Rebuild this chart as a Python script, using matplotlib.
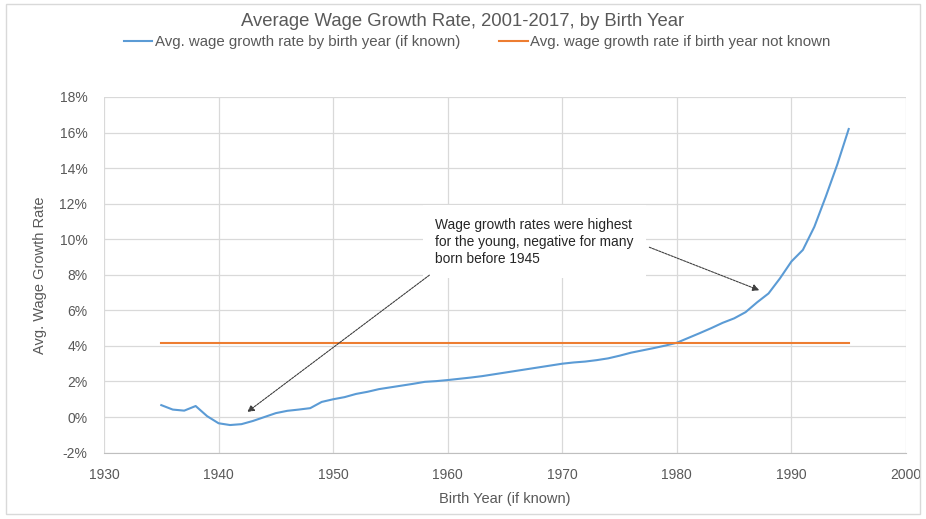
import matplotlib
matplotlib.use("Agg")
import matplotlib.pyplot as plt
from matplotlib.patches import Rectangle
from matplotlib.ticker import FuncFormatter, MultipleLocator

plt.rcParams['font.family'] = ['Liberation Sans', 'DejaVu Sans']

years = list(range(1935, 1996))
wage_growth = [0.67, 0.42, 0.36, 0.62, 0.05, -0.35, -0.45, -0.40, -0.22, 0.00,
               0.22, 0.35, 0.42, 0.50, 0.85, 1.00, 1.12, 1.30, 1.42, 1.57,
               1.67, 1.77, 1.87, 1.98, 2.02, 2.08, 2.15, 2.22, 2.30, 2.40,
               2.50, 2.60, 2.70, 2.80, 2.90, 3.00, 3.07, 3.12, 3.20, 3.30,
               3.45, 3.62, 3.75, 3.88, 4.02, 4.18, 4.45, 4.72, 5.00, 5.30,
               5.55, 5.90, 6.45, 6.95, 7.80, 8.75, 9.40, 10.70, 12.40, 14.20,
               16.20]
unknown_rate = 4.15

title = "Average Wage Growth Rate, 2001-2017, by Birth Year"
label_known = "Avg. wage growth rate by birth year (if known)"
label_unknown = "Avg. wage growth rate if birth year not known"
xlabel = "Birth Year (if known)"
ylabel = "Avg. Wage Growth Rate"
note = "Wage growth rates were highest\nfor the young, negative for many\nborn before 1945"

blue = '#5B9BD5'
orange = '#ED7D31'
grid = '#D9D9D9'
txt = '#595959'

fig = plt.figure(figsize=(9.26, 5.19), dpi=100)
fig.patch.set_facecolor('white')
fig.add_artist(Rectangle((0.006, 0.01), 0.988, 0.982, transform=fig.transFigure,
                         fill=False, edgecolor='#D9D9D9', lw=1))

ax = fig.add_axes([104/926, 1-452.6/519, (906-104)/926, (452.6-97)/519])
ax.plot(years, wage_growth, color=blue, lw=1.5, label=label_known, zorder=3)
ax.plot([years[0], years[-1]], [unknown_rate, unknown_rate], color=orange, lw=1.5,
        label=label_unknown, zorder=3)

ax.set_xlim(1930, 2000)
ax.set_ylim(-2, 18)
ax.xaxis.set_major_locator(MultipleLocator(10))
ax.yaxis.set_major_locator(MultipleLocator(2))
ax.yaxis.set_major_formatter(FuncFormatter(lambda v, p: f"{v:.0f}%"))
ax.grid(True, color=grid, lw=0.9, zorder=0)
ax.set_axisbelow(True)
for s in ['top', 'right', 'left']:
    ax.spines[s].set_visible(False)
ax.spines['bottom'].set_color('#BFBFBF')
ax.tick_params(length=0, colors=txt, labelsize=10)
ax.tick_params(axis='x', pad=11)
ax.tick_params(axis='y', pad=12)
ax.set_xlabel(xlabel, color=txt, fontsize=10.5, labelpad=7)
ax.set_ylabel(ylabel, color=txt, fontsize=10.5, labelpad=9)

fig.text(0.5, 1-21/519, title, ha='center', va='center', color=txt, fontsize=13.3)
fig.legend(loc='center', bbox_to_anchor=(477/926, 1-42/519), ncol=2, frameon=False,
           fontsize=10.8, handlelength=1.9, handletextpad=0.15, columnspacing=2.6,
           labelcolor=txt)

ax.text(1958.9, 11.2, note, ha='left', va='top', fontsize=9.9, color='#262626',
        linespacing=1.27, zorder=4,
        bbox=dict(facecolor='white', edgecolor='none', pad=9))

arrow = dict(arrowstyle='-|>', color='#404040', lw=0.8, linestyle=(0, (2, 1)),
             mutation_scale=10, shrinkA=0, shrinkB=0)
ax.annotate('', xy=(1942.5, 0.28), xytext=(1958.4, 7.98), arrowprops=arrow, zorder=5)
ax.annotate('', xy=(1987.2, 7.13), xytext=(1977.6, 9.55), arrowprops=arrow, zorder=5)

fig.savefig('out.png', dpi=100, facecolor='white')
